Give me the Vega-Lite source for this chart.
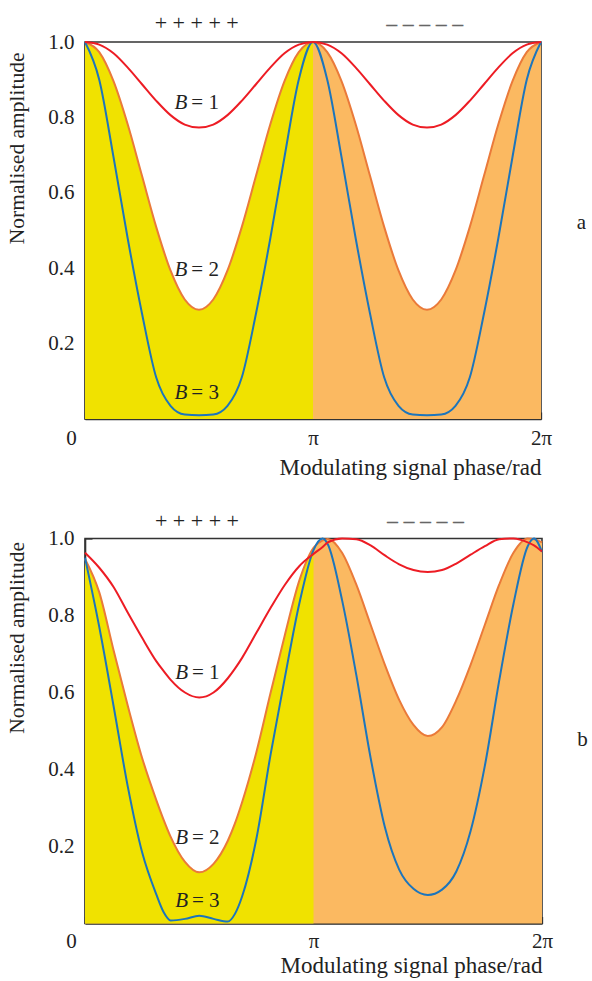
{
  "$schema": "https://vega.github.io/schema/vega-lite/v6.json",
  "padding": {"left": 5, "top": 11, "right": 0, "bottom": 0},
  "bounds": "flush",
  "spacing": 119.5,
  "config": {
    "font": "Liberation Serif",
    "view": {"stroke": "#333333", "strokeWidth": 1.6},
    "axis": {
      "grid": false,
      "domainColor": "#333333",
      "domainWidth": 1.6,
      "tickColor": "#333333",
      "tickWidth": 1.3,
      "labelColor": "#222222",
      "titleColor": "#222222",
      "labelFont": "Liberation Serif",
      "titleFont": "Liberation Serif",
      "labelFontSize": 21,
      "titleFontSize": 21.5,
      "titleFontWeight": "normal"
    },
    "text": {"font": "Liberation Serif"}
  },
  "datasets": {
    "pa": [
      {"x": 0, "b1": 1.0, "b2": 1.0, "b3": 1.0},
      {"x": 0.0625, "b1": 0.993, "b2": 0.973, "b3": 0.9},
      {"x": 0.125, "b1": 0.97, "b2": 0.896, "b3": 0.695},
      {"x": 0.1875, "b1": 0.932, "b2": 0.781, "b3": 0.478},
      {"x": 0.25, "b1": 0.888, "b2": 0.645, "b3": 0.28},
      {"x": 0.3125, "b1": 0.844, "b2": 0.509, "b3": 0.11},
      {"x": 0.375, "b1": 0.806, "b2": 0.394, "b3": 0.035},
      {"x": 0.4375, "b1": 0.781, "b2": 0.317, "b3": 0.012},
      {"x": 0.5, "b1": 0.773, "b2": 0.29, "b3": 0.01},
      {"x": 0.5625, "b1": 0.781, "b2": 0.317, "b3": 0.012},
      {"x": 0.625, "b1": 0.806, "b2": 0.394, "b3": 0.035},
      {"x": 0.6875, "b1": 0.844, "b2": 0.509, "b3": 0.11},
      {"x": 0.75, "b1": 0.888, "b2": 0.645, "b3": 0.28},
      {"x": 0.8125, "b1": 0.932, "b2": 0.781, "b3": 0.478},
      {"x": 0.875, "b1": 0.97, "b2": 0.896, "b3": 0.695},
      {"x": 0.9375, "b1": 0.993, "b2": 0.973, "b3": 0.9},
      {"x": 1.0, "b1": 1.0, "b2": 1.0, "b3": 1.0},
      {"x": 1.0625, "b1": 0.993, "b2": 0.973, "b3": 0.9},
      {"x": 1.125, "b1": 0.97, "b2": 0.896, "b3": 0.695},
      {"x": 1.1875, "b1": 0.932, "b2": 0.781, "b3": 0.478},
      {"x": 1.25, "b1": 0.888, "b2": 0.645, "b3": 0.28},
      {"x": 1.3125, "b1": 0.844, "b2": 0.509, "b3": 0.11},
      {"x": 1.375, "b1": 0.806, "b2": 0.394, "b3": 0.035},
      {"x": 1.4375, "b1": 0.781, "b2": 0.317, "b3": 0.012},
      {"x": 1.5, "b1": 0.773, "b2": 0.29, "b3": 0.01},
      {"x": 1.5625, "b1": 0.781, "b2": 0.317, "b3": 0.012},
      {"x": 1.625, "b1": 0.806, "b2": 0.394, "b3": 0.035},
      {"x": 1.6875, "b1": 0.844, "b2": 0.509, "b3": 0.11},
      {"x": 1.75, "b1": 0.888, "b2": 0.645, "b3": 0.28},
      {"x": 1.8125, "b1": 0.932, "b2": 0.781, "b3": 0.478},
      {"x": 1.875, "b1": 0.97, "b2": 0.896, "b3": 0.695},
      {"x": 1.9375, "b1": 0.993, "b2": 0.973, "b3": 0.9},
      {"x": 2.0, "b1": 1.0, "b2": 1.0, "b3": 1.0}
    ],
    "pb": [
      {"x": 0, "b1": 0.963, "b2": 0.947, "b3": 0.95},
      {"x": 0.0625, "b1": 0.924, "b2": 0.86, "b3": 0.77},
      {"x": 0.125, "b1": 0.874, "b2": 0.71, "b3": 0.565},
      {"x": 0.1875, "b1": 0.807, "b2": 0.565, "b3": 0.355},
      {"x": 0.25, "b1": 0.742, "b2": 0.43, "b3": 0.185},
      {"x": 0.3125, "b1": 0.681, "b2": 0.32, "b3": 0.075},
      {"x": 0.34375, "b1": 0.656, "b2": 0.27, "b3": 0.03},
      {"x": 0.375, "b1": 0.633, "b2": 0.225, "b3": 0.008},
      {"x": 0.4375, "b1": 0.6, "b2": 0.16, "b3": 0.012},
      {"x": 0.5, "b1": 0.587, "b2": 0.133, "b3": 0.02},
      {"x": 0.5625, "b1": 0.6, "b2": 0.155, "b3": 0.012},
      {"x": 0.625, "b1": 0.637, "b2": 0.215, "b3": 0.005},
      {"x": 0.65625, "b1": 0.662, "b2": 0.26, "b3": 0.025},
      {"x": 0.6875, "b1": 0.69, "b2": 0.315, "b3": 0.07},
      {"x": 0.75, "b1": 0.755, "b2": 0.445, "b3": 0.22},
      {"x": 0.8125, "b1": 0.82, "b2": 0.6, "b3": 0.44},
      {"x": 0.875, "b1": 0.88, "b2": 0.75, "b3": 0.64},
      {"x": 0.9375, "b1": 0.928, "b2": 0.89, "b3": 0.83},
      {"x": 1.0, "b1": 0.96, "b2": 0.976, "b3": 0.97},
      {"x": 1.04, "b1": 0.978, "b2": 0.995, "b3": 1.0},
      {"x": 1.0625, "b1": 0.99, "b2": 0.999, "b3": 0.985},
      {"x": 1.125, "b1": 1.0, "b2": 0.963, "b3": 0.84},
      {"x": 1.1875, "b1": 0.998, "b2": 0.88, "b3": 0.645},
      {"x": 1.25, "b1": 0.982, "b2": 0.776, "b3": 0.43},
      {"x": 1.3125, "b1": 0.956, "b2": 0.672, "b3": 0.25},
      {"x": 1.375, "b1": 0.933, "b2": 0.581, "b3": 0.14},
      {"x": 1.4375, "b1": 0.918, "b2": 0.516, "b3": 0.09},
      {"x": 1.5, "b1": 0.913, "b2": 0.487, "b3": 0.074},
      {"x": 1.5625, "b1": 0.918, "b2": 0.51, "b3": 0.088},
      {"x": 1.625, "b1": 0.935, "b2": 0.58, "b3": 0.135},
      {"x": 1.6875, "b1": 0.958, "b2": 0.672, "b3": 0.24},
      {"x": 1.75, "b1": 0.98, "b2": 0.776, "b3": 0.41},
      {"x": 1.8125, "b1": 0.998, "b2": 0.88, "b3": 0.63},
      {"x": 1.875, "b1": 1.0, "b2": 0.963, "b3": 0.83},
      {"x": 1.9375, "b1": 0.99, "b2": 1.0, "b3": 0.98},
      {"x": 1.965, "b1": 0.982, "b2": 0.998, "b3": 1.0},
      {"x": 2.0, "b1": 0.966, "b2": 0.99, "b3": 0.965}
    ]
  },
  "vconcat": [
    {
      "width": 456,
      "height": 377,
      "encoding": {
        "x": {"field": "x", "type": "quantitative", "scale": {"domain": [0, 2], "nice": false},
          "axis": {"values": [0, 1, 2], "labelExpr": "datum.value == 0 ? '0' : datum.value == 1 ? 'π' : '2π'",
            "title": "Modulating signal phase/rad", "titleAnchor": "end", "titlePadding": 8, "titleFontSize": 23,
            "tickSize": -7, "labelPadding": 15, "labelFlush": false,
            "labelOffset": {"condition": {"test": "datum.value == 0", "value": -14}, "value": 0}}},
        "y": {"field": "y", "type": "quantitative", "scale": {"domain": [0, 1], "nice": false},
          "axis": {"values": [0.2, 0.4, 0.6, 0.8, 1.0], "format": ".1f", "title": "Normalised amplitude",
            "titleX": -62, "titleY": 10, "titleAlign": "right", "titleBaseline": "alphabetic",
            "tickSize": -7, "labelPadding": 18}}
      },
      "layer": [
        {"data": {"name": "pa"}, "transform": [{"fold": ["b1", "b2", "b3"], "as": ["B", "y"]}, {"filter": "datum.B == 'b2'"}],
          "mark": {"type": "area", "color": "#FBB961", "interpolate": "monotone"}},
        {"data": {"name": "pa"}, "transform": [{"fold": ["b1", "b2", "b3"], "as": ["B", "y"]}, {"filter": "datum.B == 'b2' && datum.x <= 1"}],
          "mark": {"type": "area", "color": "#F0E200", "interpolate": "monotone"}},
        {"data": {"name": "pa"}, "transform": [{"fold": ["b2", "b3", "b1"], "as": ["B", "y"]}],
          "mark": {"type": "line", "interpolate": "monotone", "strokeWidth": 2},
          "encoding": {"color": {"field": "B", "type": "nominal", "scale": {"domain": ["b2", "b3", "b1"], "range": ["#EA7A3A", "#1C75BC", "#ED1C24"]}, "legend": null}}},
        {"data": {"values": [{"x": 0.453, "y": 0.821, "t": "B", "r": "= 1"}, {"x": 0.453, "y": 0.379, "t": "B", "r": "= 2"}, {"x": 0.453, "y": 0.052, "t": "B", "r": "= 3"}]},
          "mark": {"type": "text", "fontStyle": "italic", "fontSize": 21, "align": "right", "baseline": "alphabetic", "dx": -1, "color": "#222222"},
          "encoding": {"text": {"field": "t"}}},
        {"data": {"values": [{"x": 0.453, "y": 0.821, "t": "B", "r": "= 1"}, {"x": 0.453, "y": 0.379, "t": "B", "r": "= 2"}, {"x": 0.453, "y": 0.052, "t": "B", "r": "= 3"}]},
          "mark": {"type": "text", "fontSize": 21, "align": "left", "baseline": "alphabetic", "dx": 3, "color": "#222222"},
          "encoding": {"text": {"field": "r"}}},
        {"data": {"values": [{"x": 0.49, "y": 1.05, "t": "+ + + + +"}]},
          "mark": {"type": "text", "fontSize": 22, "baseline": "middle", "color": "#222222"},
          "encoding": {"text": {"field": "t"}}},
        {"data": {"values": [{"x": 2.177, "y": 0.521, "t": "a"}]},
          "mark": {"type": "text", "fontSize": 21, "baseline": "middle", "color": "#222222"},
          "encoding": {"text": {"field": "t"}}},
        {"data": {"values": [{"x": 1.49, "y": 1.047, "t": "– – – – –"}]},
          "mark": {"type": "text", "fontSize": 22, "fontWeight": "bold", "baseline": "middle", "color": "#666666"},
          "encoding": {"text": {"field": "t"}}}
      ]
    },
    {
      "width": 457,
      "height": 385,
      "encoding": {
        "x": {"field": "x", "type": "quantitative", "scale": {"domain": [0, 2], "nice": false},
          "axis": {"values": [0, 1, 2], "labelExpr": "datum.value == 0 ? '0' : datum.value == 1 ? 'π' : '2π'",
            "title": "Modulating signal phase/rad", "titleAnchor": "end", "titlePadding": 3, "titleFontSize": 23,
            "tickSize": -7, "labelPadding": 14, "labelFlush": false,
            "labelOffset": {"condition": {"test": "datum.value == 0", "value": -14}, "value": 0}}},
        "y": {"field": "y", "type": "quantitative", "scale": {"domain": [0, 1], "nice": false},
          "axis": {"values": [0.2, 0.4, 0.6, 0.8, 1.0], "format": ".1f", "title": "Normalised amplitude",
            "titleX": -62, "titleY": 3, "titleAlign": "right", "titleBaseline": "alphabetic",
            "tickSize": -7, "labelPadding": 18}}
      },
      "layer": [
        {"data": {"name": "pb"}, "transform": [{"fold": ["b1", "b2", "b3"], "as": ["B", "y"]}, {"filter": "datum.B == 'b2'"}],
          "mark": {"type": "area", "color": "#FBB961", "interpolate": "monotone"}},
        {"data": {"name": "pb"}, "transform": [{"fold": ["b1", "b2", "b3"], "as": ["B", "y"]}, {"filter": "datum.B == 'b2' && datum.x <= 1"}],
          "mark": {"type": "area", "color": "#F0E200", "interpolate": "monotone"}},
        {"data": {"name": "pb"}, "transform": [{"fold": ["b2", "b3", "b1"], "as": ["B", "y"]}],
          "mark": {"type": "line", "interpolate": "monotone", "strokeWidth": 2},
          "encoding": {"color": {"field": "B", "type": "nominal", "scale": {"domain": ["b2", "b3", "b1"], "range": ["#EA7A3A", "#1C75BC", "#ED1C24"]}, "legend": null}}},
        {"data": {"values": [{"x": 0.455, "y": 0.634, "t": "B", "r": "= 1"}, {"x": 0.455, "y": 0.206, "t": "B", "r": "= 2"}, {"x": 0.455, "y": 0.044, "t": "B", "r": "= 3"}]},
          "mark": {"type": "text", "fontStyle": "italic", "fontSize": 21, "align": "right", "baseline": "alphabetic", "dx": -1, "color": "#222222"},
          "encoding": {"text": {"field": "t"}}},
        {"data": {"values": [{"x": 0.455, "y": 0.634, "t": "B", "r": "= 1"}, {"x": 0.455, "y": 0.206, "t": "B", "r": "= 2"}, {"x": 0.455, "y": 0.044, "t": "B", "r": "= 3"}]},
          "mark": {"type": "text", "fontSize": 21, "align": "left", "baseline": "alphabetic", "dx": 3, "color": "#222222"},
          "encoding": {"text": {"field": "r"}}},
        {"data": {"values": [{"x": 0.49, "y": 1.046, "t": "+ + + + +"}]},
          "mark": {"type": "text", "fontSize": 22, "baseline": "middle", "color": "#222222"},
          "encoding": {"text": {"field": "t"}}},
        {"data": {"values": [{"x": 2.177, "y": 0.477, "t": "b"}]},
          "mark": {"type": "text", "fontSize": 21, "baseline": "middle", "color": "#222222"},
          "encoding": {"text": {"field": "t"}}},
        {"data": {"values": [{"x": 1.49, "y": 1.046, "t": "– – – – –"}]},
          "mark": {"type": "text", "fontSize": 22, "fontWeight": "bold", "baseline": "middle", "color": "#666666"},
          "encoding": {"text": {"field": "t"}}}
      ]
    }
  ]
}
